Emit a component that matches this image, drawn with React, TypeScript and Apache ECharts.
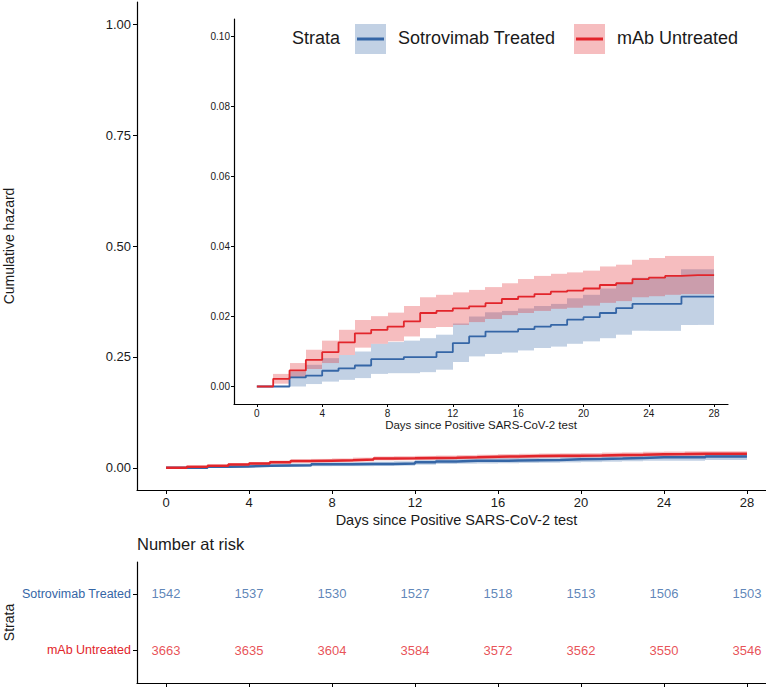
import React, { useEffect, useRef } from "react";
import * as echarts from "echarts";

// ---------- data ----------
const days = [0, 1, 2, 3, 4, 5, 6, 7, 8, 9, 10, 11, 12, 13, 14, 15, 16, 17, 18, 19, 20, 21, 22, 23, 24, 25, 26, 27, 28];

const sotroHazard = [0, 0, 0.0026, 0.0031, 0.0045, 0.0052, 0.0060, 0.0078, 0.0078, 0.0084, 0.0084, 0.0098, 0.0124, 0.0143, 0.0157, 0.0157, 0.0164, 0.0171, 0.0176, 0.0191, 0.0198, 0.0210, 0.0224, 0.0236, 0.0236, 0.0236, 0.0257, 0.0257, 0.0257];
const sotroUpper = [0, 0, 0.0043, 0.0062, 0.0081, 0.0090, 0.0100, 0.0122, 0.0127, 0.0131, 0.0138, 0.0148, 0.0180, 0.0200, 0.0212, 0.0216, 0.0223, 0.0230, 0.0236, 0.0252, 0.0262, 0.0280, 0.0296, 0.0311, 0.0313, 0.0316, 0.0335, 0.0335, 0.0335];
const sotroLower = [0, 0, 0, 0.0007, 0.0014, 0.0019, 0.0024, 0.0036, 0.0038, 0.0038, 0.0041, 0.0048, 0.0070, 0.0086, 0.0093, 0.0097, 0.0103, 0.0110, 0.0114, 0.0122, 0.0129, 0.0138, 0.0148, 0.0159, 0.0159, 0.0159, 0.0176, 0.0176, 0.0176];

const untreatedHazard = [0, 0.0022, 0.0046, 0.0076, 0.0098, 0.0126, 0.0152, 0.0162, 0.0171, 0.0186, 0.0210, 0.0216, 0.0223, 0.0229, 0.0238, 0.0250, 0.0257, 0.0264, 0.0271, 0.0274, 0.0280, 0.0290, 0.0295, 0.0307, 0.0311, 0.0316, 0.0318, 0.0318, 0.0318];
const untreatedUpper = [0, 0.0036, 0.0067, 0.0105, 0.0131, 0.0162, 0.0190, 0.0201, 0.0211, 0.0230, 0.0255, 0.0262, 0.0269, 0.0276, 0.0284, 0.0295, 0.0307, 0.0316, 0.0322, 0.0326, 0.0331, 0.0343, 0.0348, 0.0362, 0.0367, 0.0373, 0.0373, 0.0373, 0.0373];
const untreatedLower = [0, 0.0008, 0.0027, 0.0050, 0.0067, 0.0090, 0.0111, 0.0122, 0.0129, 0.0143, 0.0167, 0.0170, 0.0176, 0.0184, 0.0193, 0.0204, 0.0210, 0.0216, 0.0222, 0.0225, 0.0231, 0.0239, 0.0244, 0.0255, 0.0258, 0.0262, 0.0264, 0.0264, 0.0264];

const strata = ["Sotrovimab Treated", "mAb Untreated"];
const riskDays = [0, 4, 8, 12, 16, 20, 24, 28];
const sotroRisk = [1542, 1537, 1530, 1527, 1518, 1513, 1506, 1503];
const untreatedRisk = [3663, 3635, 3604, 3584, 3572, 3562, 3550, 3546];

const xTicks = [0, 4, 8, 12, 16, 20, 24, 28];
const mainYTicks = [0, 0.25, 0.5, 0.75, 1];
const insetYTicks = [0, 0.02, 0.04, 0.06, 0.08, 0.1];
const riskRows = [2, 1]; // row positions for strata[0], strata[1]

const xTitle = "Days since Positive SARS-CoV-2 test";

// ---------- styles ----------
const BLUE = "#3566A6";
const RED = "#E2252B";
const BLUE_FILL = "rgba(53,102,166,0.3)";
const RED_FILL = "rgba(226,37,43,0.3)";
const FONT = "'Liberation Sans', Arial, Helvetica, sans-serif";
const INK = "#1a1a1a";

// confidence band: one rectangle per step interval [day_i, day_i+1)
function band(g: number, lower: number[], upper: number[], fill: string) {
  const data = [] as number[][];
  for (let i = 0; i < days.length - 1; i++) {
    data.push([days[i], days[i + 1], lower[i], upper[i]]);
  }
  return {
    type: "custom",
    xAxisIndex: g,
    yAxisIndex: g,
    silent: true,
    clip: true,
    encode: { x: [0, 1], y: [2, 3] },
    data,
    renderItem: (params: any, api: any) => {
      const a = api.coord([api.value(0), api.value(3)]);
      const b = api.coord([api.value(1), api.value(2)]);
      const x0 = Math.round(a[0]);
      const x1 = Math.round(b[0]);
      const h = b[1] - a[1];
      if (h <= 0.01) return null;
      return {
        type: "rect",
        shape: { x: x0, y: a[1], width: x1 - x0, height: h },
        style: { fill },
      };
    },
  };
}

function stepLine(g: number, vals: number[], color: string, width: number) {
  return {
    type: "line",
    xAxisIndex: g,
    yAxisIndex: g,
    step: "end",
    symbol: "none",
    lineStyle: { color, width },
    data: days.map((d, i) => [d, vals[i]]),
  };
}

const axisLine = { show: true, onZero: false, lineStyle: { color: "#000", width: 1.2 } };

export default function App() {
  const ref = useRef<HTMLDivElement>(null);
  useEffect(() => {
    if (!ref.current) return;
    const chart = echarts.init(ref.current, undefined, { renderer: "svg" });
    const option: any = {
      animation: false,
      textStyle: { fontFamily: FONT },
      title: {
        text: "Number at risk",
        left: 137,
        top: 535,
        padding: 0,
        textStyle: { fontSize: 16.5, fontWeight: "normal", color: INK, fontFamily: FONT },
      },
      grid: [
        { left: 137, right: -10, top: 2, bottom: 197, outerBoundsMode: "none", containLabel: false },
        { left: 234, right: 38, top: 19, bottom: 283, outerBoundsMode: "none", containLabel: false },
        { left: 137, right: -10, top: 562, bottom: 4, outerBoundsMode: "none", containLabel: false },
      ],
      xAxis: [
        {
          gridIndex: 0,
          type: "value",
          min: -1.4,
          max: 29.4,
          splitLine: { show: false },
          axisLine,
          axisTick: { customValues: xTicks, length: 4, lineStyle: { color: "#000" } },
          axisLabel: { customValues: xTicks, fontSize: 13, color: INK, margin: 6 },
          name: xTitle,
          nameLocation: "middle",
          nameGap: 22,
          nameMoveOverlap: false,
          nameTextStyle: { fontSize: 14.5, color: INK, verticalAlign: "top" },
        },
        {
          gridIndex: 1,
          type: "value",
          min: -1.4,
          max: 28.85,
          splitLine: { show: false },
          axisLine,
          axisTick: { customValues: xTicks, length: 3, lineStyle: { color: "#000" } },
          axisLabel: { customValues: xTicks, fontSize: 10, color: INK, margin: 4 },
          name: xTitle,
          nameLocation: "middle",
          nameGap: 15,
          nameMoveOverlap: false,
          nameTextStyle: { fontSize: 11.5, color: INK, verticalAlign: "top" },
        },
        {
          gridIndex: 2,
          type: "value",
          min: -1.4,
          max: 29.4,
          splitLine: { show: false },
          axisLine,
          axisTick: { customValues: xTicks, length: 4, lineStyle: { color: "#000" } },
          axisLabel: { show: false },
        },
      ],
      yAxis: [
        {
          gridIndex: 0,
          type: "value",
          min: -0.05,
          max: 1.05,
          splitLine: { show: false },
          axisLine,
          axisTick: { customValues: mainYTicks, length: 4, lineStyle: { color: "#000" } },
          axisLabel: {
            customValues: mainYTicks,
            fontSize: 13,
            color: INK,
            margin: 6,
            formatter: (v: number) => v.toFixed(2),
          },
          name: "Cumulative hazard",
          nameLocation: "middle",
          nameGap: 121,
          nameMoveOverlap: false,
          nameTextStyle: { fontSize: 14, color: INK },
        },
        {
          gridIndex: 1,
          type: "value",
          min: -0.005,
          max: 0.105,
          splitLine: { show: false },
          axisLine,
          axisTick: { customValues: insetYTicks, length: 3, lineStyle: { color: "#000" } },
          axisLabel: {
            customValues: insetYTicks,
            fontSize: 10,
            color: INK,
            margin: 4,
            formatter: (v: number) => v.toFixed(2),
          },
        },
        {
          gridIndex: 2,
          type: "value",
          min: 0.411,
          max: 2.571,
          splitLine: { show: false },
          axisLine,
          axisTick: { customValues: riskRows, length: 4, lineStyle: { color: "#000" } },
          axisLabel: {
            customValues: riskRows,
            margin: 6,
            formatter: (v: number) =>
              v === riskRows[0] ? "{b|" + strata[0] + "}" : "{r|" + strata[1] + "}",
            rich: {
              b: { color: BLUE, fontSize: 12.5, fontFamily: FONT },
              r: { color: RED, fontSize: 12.5, fontFamily: FONT },
            },
          },
          name: "Strata",
          nameLocation: "middle",
          nameGap: 121,
          nameMoveOverlap: false,
          nameTextStyle: { fontSize: 14, color: INK },
        },
      ],
      series: [
        band(0, sotroLower, sotroUpper, BLUE_FILL),
        band(0, untreatedLower, untreatedUpper, RED_FILL),
        stepLine(0, sotroHazard, BLUE, 2.5),
        stepLine(0, untreatedHazard, RED, 2.5),
        band(1, sotroLower, sotroUpper, BLUE_FILL),
        band(1, untreatedLower, untreatedUpper, RED_FILL),
        stepLine(1, sotroHazard, BLUE, 1.8),
        stepLine(1, untreatedHazard, RED, 1.8),
        {
          type: "scatter",
          xAxisIndex: 2,
          yAxisIndex: 2,
          symbolSize: 1,
          itemStyle: { color: "rgba(0,0,0,0)" },
          label: {
            show: true,
            position: "inside",
            color: BLUE,
            fontSize: 13,
            fontFamily: FONT,
            formatter: (p: any) => String(p.value[2]),
          },
          data: riskDays.map((d, i) => [d, riskRows[0], sotroRisk[i]]),
        },
        {
          type: "scatter",
          xAxisIndex: 2,
          yAxisIndex: 2,
          symbolSize: 1,
          itemStyle: { color: "rgba(0,0,0,0)" },
          label: {
            show: true,
            position: "inside",
            color: RED,
            fontSize: 13,
            fontFamily: FONT,
            formatter: (p: any) => String(p.value[2]),
          },
          data: riskDays.map((d, i) => [d, riskRows[1], untreatedRisk[i]]),
        },
      ],
      graphic: [
        {
          type: "text",
          left: 292,
          top: 29,
          style: { text: "Strata", fontSize: 18, fill: INK, fontFamily: FONT },
        },
        {
          type: "rect",
          shape: { x: 355, y: 24, width: 31, height: 30 },
          style: { fill: BLUE_FILL },
        },
        {
          type: "line",
          shape: { x1: 357, y1: 39, x2: 384, y2: 39 },
          style: { stroke: BLUE, lineWidth: 3 },
        },
        {
          type: "text",
          left: 398,
          top: 29,
          style: { text: strata[0], fontSize: 18, fill: INK, fontFamily: FONT },
        },
        {
          type: "rect",
          shape: { x: 574, y: 24, width: 31, height: 30 },
          style: { fill: RED_FILL },
        },
        {
          type: "line",
          shape: { x1: 576, y1: 39, x2: 603, y2: 39 },
          style: { stroke: RED, lineWidth: 3 },
        },
        {
          type: "text",
          left: 617,
          top: 29,
          style: { text: strata[1], fontSize: 18, fill: INK, fontFamily: FONT },
        },
      ],
    };
    chart.setOption(option);
    return () => chart.dispose();
  }, []);
  return (
    <div
      ref={ref}
      style={{ position: "fixed", left: 0, top: 0, width: 766, height: 687, background: "#fff" }}
    />
  );
}
